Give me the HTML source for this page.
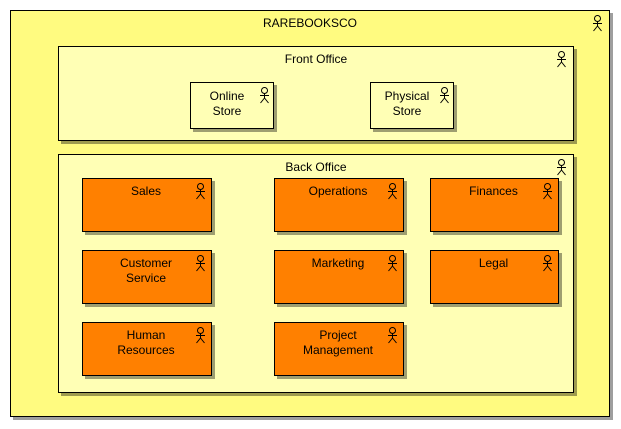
<!DOCTYPE html>
<html><head><meta charset="utf-8"><style>
html,body{margin:0;padding:0;background:#fff;width:621px;height:429px;overflow:hidden;position:relative}
.b{position:absolute;box-sizing:border-box;border:1px solid #000;box-shadow:3px 3px 0 rgba(0,0,0,0.38);font:12px "Liberation Sans",sans-serif;color:#000;text-align:center;line-height:15px}
.o{background:#fffb80}
.l{background:#ffffb5}
.r{background:#ff8000}
.t{position:absolute;left:0;right:0}
svg{position:absolute}
</style></head><body>
<div class="b o" style="left:10px;top:10px;width:600px;height:407px"><div class="t" style="top:5px">RAREBOOKSCO</div>
<svg style="right:6px;top:4px" width="11" height="17" viewBox="0 0 11 17"><circle cx="5.5" cy="3.5" r="3" fill="none" stroke="#000"/><path d="M5.5 6.5V11M1 8.5H10M5.5 11L1.5 16M5.5 11L9.5 16" stroke="#000" fill="none"/></svg></div>

<div class="b l" style="left:58px;top:46px;width:516px;height:95px"><div class="t" style="top:5px">Front Office</div>
<svg style="right:6px;top:4px" width="11" height="17" viewBox="0 0 11 17"><circle cx="5.5" cy="3.5" r="3" fill="none" stroke="#000"/><path d="M5.5 6.5V11M1 8.5H10M5.5 11L1.5 16M5.5 11L9.5 16" stroke="#000" fill="none"/></svg></div>

<div class="b l" style="left:190px;top:82px;width:84px;height:47px"><div class="t" style="top:6px;left:0;right:10px">Online<br>Store</div>
<svg style="right:3px;top:4px" width="11" height="17" viewBox="0 0 11 17"><circle cx="5.5" cy="3.5" r="3" fill="none" stroke="#000"/><path d="M5.5 6.5V11M1 8.5H10M5.5 11L1.5 16M5.5 11L9.5 16" stroke="#000" fill="none"/></svg></div>
<div class="b l" style="left:370px;top:82px;width:84px;height:47px"><div class="t" style="top:6px;left:0;right:10px">Physical<br>Store</div>
<svg style="right:3px;top:4px" width="11" height="17" viewBox="0 0 11 17"><circle cx="5.5" cy="3.5" r="3" fill="none" stroke="#000"/><path d="M5.5 6.5V11M1 8.5H10M5.5 11L1.5 16M5.5 11L9.5 16" stroke="#000" fill="none"/></svg></div>

<div class="b l" style="left:58px;top:154px;width:516px;height:239px"><div class="t" style="top:5px">Back Office</div>
<svg style="right:6px;top:4px" width="11" height="17" viewBox="0 0 11 17"><circle cx="5.5" cy="3.5" r="3" fill="none" stroke="#000"/><path d="M5.5 6.5V11M1 8.5H10M5.5 11L1.5 16M5.5 11L9.5 16" stroke="#000" fill="none"/></svg></div>

<div class="b r" style="left:82px;top:178px;width:130px;height:54px"><div class="t" style="top:5px;right:2px">Sales</div><svg style="right:5px;top:4px" width="11" height="17" viewBox="0 0 11 17"><circle cx="5.5" cy="3.5" r="3" fill="none" stroke="#000"/><path d="M5.5 6.5V11M1 8.5H10M5.5 11L1.5 16M5.5 11L9.5 16" stroke="#000" fill="none"/></svg></div>
<div class="b r" style="left:274px;top:178px;width:130px;height:54px"><div class="t" style="top:5px;right:2px">Operations</div><svg style="right:5px;top:4px" width="11" height="17" viewBox="0 0 11 17"><circle cx="5.5" cy="3.5" r="3" fill="none" stroke="#000"/><path d="M5.5 6.5V11M1 8.5H10M5.5 11L1.5 16M5.5 11L9.5 16" stroke="#000" fill="none"/></svg></div>
<div class="b r" style="left:430px;top:178px;width:129px;height:54px"><div class="t" style="top:5px;right:2px">Finances</div><svg style="right:5px;top:4px" width="11" height="17" viewBox="0 0 11 17"><circle cx="5.5" cy="3.5" r="3" fill="none" stroke="#000"/><path d="M5.5 6.5V11M1 8.5H10M5.5 11L1.5 16M5.5 11L9.5 16" stroke="#000" fill="none"/></svg></div>

<div class="b r" style="left:82px;top:250px;width:130px;height:54px"><div class="t" style="top:5px;right:2px">Customer<br>Service</div><svg style="right:5px;top:4px" width="11" height="17" viewBox="0 0 11 17"><circle cx="5.5" cy="3.5" r="3" fill="none" stroke="#000"/><path d="M5.5 6.5V11M1 8.5H10M5.5 11L1.5 16M5.5 11L9.5 16" stroke="#000" fill="none"/></svg></div>
<div class="b r" style="left:274px;top:250px;width:130px;height:54px"><div class="t" style="top:5px;right:2px">Marketing</div><svg style="right:5px;top:4px" width="11" height="17" viewBox="0 0 11 17"><circle cx="5.5" cy="3.5" r="3" fill="none" stroke="#000"/><path d="M5.5 6.5V11M1 8.5H10M5.5 11L1.5 16M5.5 11L9.5 16" stroke="#000" fill="none"/></svg></div>
<div class="b r" style="left:430px;top:250px;width:129px;height:54px"><div class="t" style="top:5px;right:2px">Legal</div><svg style="right:5px;top:4px" width="11" height="17" viewBox="0 0 11 17"><circle cx="5.5" cy="3.5" r="3" fill="none" stroke="#000"/><path d="M5.5 6.5V11M1 8.5H10M5.5 11L1.5 16M5.5 11L9.5 16" stroke="#000" fill="none"/></svg></div>

<div class="b r" style="left:82px;top:322px;width:130px;height:54px"><div class="t" style="top:5px;right:2px">Human<br>Resources</div><svg style="right:5px;top:4px" width="11" height="17" viewBox="0 0 11 17"><circle cx="5.5" cy="3.5" r="3" fill="none" stroke="#000"/><path d="M5.5 6.5V11M1 8.5H10M5.5 11L1.5 16M5.5 11L9.5 16" stroke="#000" fill="none"/></svg></div>
<div class="b r" style="left:274px;top:322px;width:130px;height:54px"><div class="t" style="top:5px;right:2px">Project<br>Management</div><svg style="right:5px;top:4px" width="11" height="17" viewBox="0 0 11 17"><circle cx="5.5" cy="3.5" r="3" fill="none" stroke="#000"/><path d="M5.5 6.5V11M1 8.5H10M5.5 11L1.5 16M5.5 11L9.5 16" stroke="#000" fill="none"/></svg></div>
</body></html>
